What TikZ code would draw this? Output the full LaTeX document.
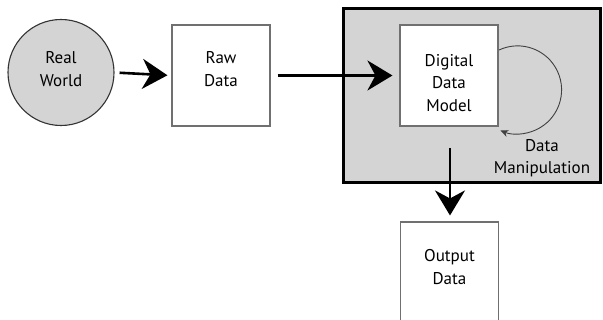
\documentclass[tikz,border=0pt]{standalone}
\usepackage{fontspec}
\setmainfont{PT Sans}
\usetikzlibrary{arrows.meta}
\definecolor{panel}{HTML}{D4D4D4}
\definecolor{boxline}{HTML}{707070}
\begin{document}
\begin{tikzpicture}[x=1pt,y=1pt,
  lbl/.style={align=center,font=\fontsize{17}{22.5}\selectfont,inner sep=0pt},
  plainbox/.style={draw=boxline,line width=1.1pt,fill=white,minimum width=98pt,minimum height=101pt,inner sep=0pt},
  bigarrow/.style={line width=2.6pt,-{Stealth[length=25pt,width=30pt,inset=8pt]}},
  looparrow/.style={draw=black!75,line width=0.9pt,-{Stealth[length=8pt,width=7pt,inset=2.5pt]}}]
\useasboundingbox (0,0) rectangle (603,-320);
\clip (0,0) rectangle (603,-320);
% panel
\node[draw=black,line width=3pt,fill=panel,minimum width=257pt,minimum height=174pt,inner sep=0pt] (panel) at (471.5,-96) {};
% real world
\node[circle,draw=black!80,line width=1.1pt,fill=panel,minimum size=106pt,inner sep=0pt] (rw) at (61,-72.5) {};
\node[lbl] (rwt) at (61,-69) {Real\\World};
% raw data
\node[plainbox] (raw) at (221,-75.5) {};
\node[lbl] (rawt) at (221,-69) {Raw\\Data};
% digital data model
\node[plainbox] (ddm) at (449,-75.5) {};
\node[lbl] (ddmt) at (449,-83) {Digital\\Data\\Model};
% output
\node[plainbox,minimum height=110pt] (out) at (449.5,-277) {};
\node[lbl] (outt) at (449.5,-267) {Output\\Data};
% manipulation label
\node[lbl] (manip) at (542,-158) {Data\\Manipulation};
% arrows
\draw[bigarrow,shorten <=5pt,shorten >=4pt] (rw.east) -- (raw.west);
\draw[bigarrow,shorten <=7pt,shorten >=7pt] (raw.east) -- (ddm.west);
\coordinate (downstart) at (450,-148);
\draw[bigarrow,shorten >=6pt] (downstart) -- (downstart |- out.north);
% loop
\coordinate (loopstart) at (499,-50);
\draw[looparrow] (loopstart) arc[start angle=115,end angle=-113,radius=44];
\end{tikzpicture}
\end{document}
